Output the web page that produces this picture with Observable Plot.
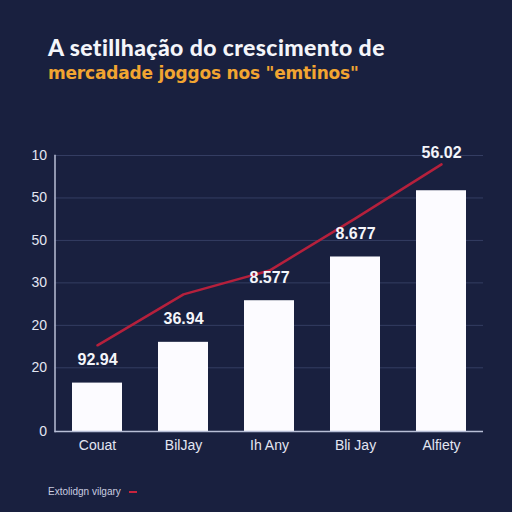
<!DOCTYPE html>
<html>
<head>
<meta charset="utf-8">
<script src="https://cdn.jsdelivr.net/npm/d3@7"></script>
<script src="https://cdn.jsdelivr.net/npm/@observablehq/plot@0.6"></script>
<style>
  html, body { margin: 0; padding: 0; background: #19203f; }
  #page { position: relative; width: 512px; height: 512px; background: #19203f; overflow: hidden; }
  #title { position: absolute; left: 48px; top: 33px; font-family: Lato, "Open Sans", sans-serif; font-weight: 900; font-size: 23px; color: #f4f5fa; white-space: nowrap; letter-spacing: 0.4px; }
  #subtitle { position: absolute; left: 48px; top: 63px; font-family: "DejaVu Sans", sans-serif; font-weight: bold; font-size: 17px; color: #f2a531; white-space: nowrap; letter-spacing: -0.2px; }
  #chart { position: absolute; left: 0; top: 130px; }
  #legend { position: absolute; left: 48px; top: 486px; font-family: "Liberation Sans", sans-serif; font-size: 10px; color: #c9cde0; display: flex; align-items: center; gap: 8px; }
  #legend .sw { width: 8px; height: 2px; background: #c8243e; }
</style>
</head>
<body>
<div id="page">
  <div id="title">A setillhação do crescimento de</div>
  <div id="subtitle">mercadade joggos nos "emtinos"</div>
  <div id="chart"></div>
  <div id="legend"><span>Extolidgn vilgary</span><span class="sw"></span></div>
</div>
<script>
const categories = ["Couat", "BilJay", "Ih Any", "Bli Jay", "Alfiety"];
const barValues = [11.4, 21.0, 30.8, 41.1, 56.7];
const trendValues = [20.3, 32.3, 37.9, 50.2, 62.9];
const valueLabels = ["92.94", "36.94", "8.577", "8.677", "56.02"];
const tickValues = [0, 15, 25, 35, 45, 55, 65];
const tickLabels = ["0", "20", "20", "30", "50", "50", "10"];

const data = categories.map((c, i) => ({
  cat: c, value: barValues[i], trend: trendValues[i], label: valueLabels[i], last: i === categories.length - 1
}));

const chart = Plot.plot({
  width: 512,
  height: 330,
  marginTop: 25,
  marginBottom: 29,
  marginLeft: 54.5,
  marginRight: 29,
  style: { background: "transparent", color: "#e3e6f2", fontFamily: "'Liberation Sans', Arial, sans-serif", fontSize: "14px" },
  x: { domain: categories, paddingInner: 0.42, paddingOuter: 0.19, label: null },
  y: { domain: [0, 65], label: null },
  marks: [
    Plot.gridY(tickValues.slice(1), { stroke: "#4a5680", strokeOpacity: 0.55 }),
    Plot.barY(data, { x: "cat", y: "value", fill: "#fcfbff" }),
    Plot.lineY(data, { x: "cat", y: "trend", stroke: "#b5203c", strokeWidth: 2.5 }),
    Plot.text(data.filter(d => !d.last), { x: "cat", y: "value", text: "label", dy: -23, fill: "#f4f5fa", fontSize: 16, fontWeight: 600 }),
    Plot.text(data.filter(d => d.last), { x: "cat", y: "value", text: "label", dy: -38, fill: "#f4f5fa", fontSize: 16, fontWeight: 600 }),
    Plot.ruleY([0], { stroke: "#b8bed6", strokeWidth: 1.5 }),
    Plot.frame({ anchor: "left", stroke: "#b8bed6", strokeWidth: 1.5 }),
    Plot.axisY({ ticks: tickValues, tickFormat: (d) => tickLabels[tickValues.indexOf(d)], tickSize: 0, tickPadding: 8, fontSize: 14, fill: "#e3e6f2" }),
    Plot.axisX({ tickSize: 0, tickPadding: 9, fontSize: 14, fill: "#e3e6f2" })
  ]
});
document.getElementById("chart").appendChild(chart);
</script>
</body>
</html>
